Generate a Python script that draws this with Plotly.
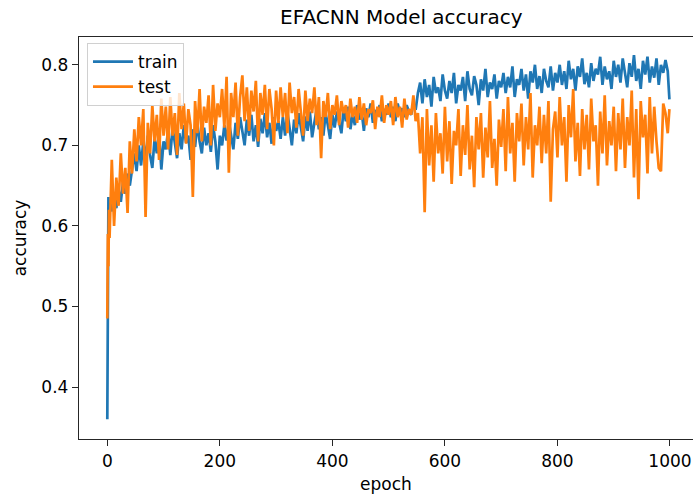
import plotly.graph_objects as go

# epochs (every epoch at the start, then every 4 epochs)
epochs = [0, 1, 2, 3] + list(range(4, 1000, 4)) + [999]

train_acc = [
    # 0-3
    0.360, 0.580, 0.636, 0.600,
    # 4-100
    0.628, 0.618, 0.640, 0.622, 0.645, 0.630, 0.655, 0.640, 0.665, 0.650,
    0.672, 0.690, 0.668, 0.700, 0.675, 0.705, 0.682, 0.712, 0.688, 0.672,
    0.708, 0.690, 0.718, 0.670, 0.705,
    # 104-200
    0.695, 0.718, 0.688, 0.722, 0.700, 0.684, 0.715, 0.695, 0.725, 0.703,
    0.712, 0.682, 0.720, 0.698, 0.728, 0.705, 0.690, 0.722, 0.700, 0.715,
    0.692, 0.725, 0.705, 0.670, 0.712,
    # 204-300
    0.700, 0.725, 0.706, 0.730, 0.712, 0.695, 0.728, 0.708, 0.735, 0.715,
    0.700, 0.732, 0.712, 0.738, 0.705, 0.725, 0.698, 0.733, 0.715, 0.740,
    0.710, 0.728, 0.702, 0.735, 0.718,
    # 304-400
    0.730, 0.708, 0.735, 0.712, 0.742, 0.718, 0.700, 0.732, 0.715, 0.740,
    0.722, 0.705, 0.736, 0.718, 0.742, 0.710, 0.728, 0.745, 0.720, 0.735,
    0.712, 0.740, 0.725, 0.708, 0.738,
    # 404-500
    0.722, 0.742, 0.728, 0.715, 0.745, 0.730, 0.748, 0.720, 0.738, 0.725,
    0.750, 0.732, 0.742, 0.718, 0.746, 0.735, 0.752, 0.728, 0.744, 0.736,
    0.750, 0.730, 0.745, 0.738, 0.752,
    # 504-600
    0.735, 0.748, 0.730, 0.752, 0.740, 0.746, 0.735, 0.750, 0.742, 0.738,
    0.752, 0.744, 0.765, 0.778, 0.752, 0.782, 0.760, 0.775, 0.748, 0.785,
    0.765, 0.772, 0.755, 0.788, 0.768,
    # 604-700
    0.758, 0.780, 0.765, 0.790, 0.752, 0.775, 0.768, 0.785, 0.755, 0.792,
    0.770, 0.762, 0.786, 0.775, 0.750, 0.782, 0.768, 0.795, 0.760, 0.778,
    0.770, 0.788, 0.758, 0.780, 0.772,
    # 704-800
    0.790, 0.765, 0.785, 0.772, 0.798, 0.760, 0.782, 0.775, 0.795, 0.768,
    0.788, 0.758, 0.792, 0.778, 0.800, 0.770, 0.786, 0.765, 0.795, 0.780,
    0.772, 0.798, 0.768, 0.790, 0.778,
    # 804-900
    0.800, 0.775, 0.792, 0.770, 0.805, 0.782, 0.795, 0.768, 0.798, 0.785,
    0.808, 0.776, 0.790, 0.772, 0.802, 0.780, 0.795, 0.788, 0.810, 0.775,
    0.798, 0.782, 0.792, 0.770, 0.805,
    # 904-996
    0.785, 0.800, 0.778, 0.808, 0.790, 0.772, 0.802, 0.785, 0.812, 0.780,
    0.795, 0.770, 0.805, 0.788, 0.810, 0.778, 0.798, 0.784, 0.808, 0.775,
    0.800, 0.790, 0.806, 0.792,
    # 999
    0.757,
]

test_acc = [
    # 0-3
    0.485, 0.590, 0.550, 0.620,
    # 4-100
    0.585, 0.682, 0.600, 0.660, 0.625, 0.690, 0.640, 0.672, 0.616, 0.705,
    0.665, 0.720, 0.680, 0.735, 0.700, 0.745, 0.611, 0.728, 0.690, 0.750,
    0.705, 0.738, 0.682, 0.758, 0.712,
    # 104-200
    0.748, 0.695, 0.760, 0.712, 0.740, 0.688, 0.765, 0.720, 0.752, 0.702,
    0.745, 0.725, 0.636, 0.755, 0.715, 0.770, 0.705, 0.748, 0.728, 0.762,
    0.700, 0.775, 0.718, 0.752, 0.735,
    # 204-300
    0.770, 0.722, 0.785, 0.666, 0.765, 0.735, 0.778, 0.712, 0.760, 0.787,
    0.730, 0.772, 0.718, 0.768, 0.742, 0.780, 0.705, 0.765, 0.738, 0.775,
    0.720, 0.770, 0.745, 0.700, 0.768,
    # 304-400
    0.728, 0.772, 0.735, 0.765, 0.715, 0.778, 0.740, 0.760, 0.722, 0.770,
    0.745, 0.712, 0.768, 0.730, 0.758, 0.740, 0.772, 0.725, 0.760, 0.684,
    0.755, 0.735, 0.765, 0.720, 0.750,
    # 404-500
    0.738, 0.762, 0.725, 0.755, 0.740, 0.750, 0.722, 0.758, 0.735, 0.748,
    0.728, 0.760, 0.732, 0.752, 0.725, 0.745, 0.740, 0.756, 0.720, 0.748,
    0.735, 0.762, 0.728, 0.750, 0.738,
    # 504-600
    0.755, 0.725, 0.760, 0.735, 0.748, 0.722, 0.758, 0.732, 0.745, 0.738,
    0.762, 0.730, 0.740, 0.690, 0.735, 0.617, 0.745, 0.675, 0.725, 0.655,
    0.740, 0.690, 0.715, 0.665, 0.748,
    # 604-700
    0.680, 0.730, 0.652, 0.718, 0.700, 0.745, 0.662, 0.725, 0.688, 0.750,
    0.670, 0.712, 0.648, 0.735, 0.695, 0.740, 0.660, 0.722, 0.685, 0.755,
    0.672, 0.708, 0.650, 0.732, 0.698,
    # 704-800
    0.745, 0.668, 0.760, 0.690, 0.728, 0.655, 0.740, 0.705, 0.752, 0.675,
    0.735, 0.695, 0.765, 0.660, 0.725, 0.700, 0.748, 0.678, 0.738, 0.690,
    0.755, 0.630, 0.720, 0.742, 0.685,
    # 804-900
    0.760, 0.700, 0.735, 0.655, 0.750, 0.710, 0.770, 0.680, 0.728, 0.662,
    0.745, 0.695, 0.738, 0.670, 0.758, 0.705, 0.725, 0.650, 0.742, 0.690,
    0.762, 0.675, 0.730, 0.700, 0.748,
    # 904-996
    0.668, 0.740, 0.695, 0.758, 0.672, 0.735, 0.700, 0.768, 0.660, 0.745,
    0.633, 0.755, 0.710, 0.738, 0.665, 0.760, 0.690, 0.748, 0.705, 0.672,
    0.668, 0.752, 0.740, 0.715,
    # 999
    0.745,
]

assert len(epochs) == len(train_acc) == len(test_acc)

x_ticks = [0, 200, 400, 600, 800, 1000]
y_ticks = [0.4, 0.5, 0.6, 0.7, 0.8]

FONT = "DejaVu Sans"
AX = "#262626"

fig = go.Figure()
fig.add_trace(go.Scatter(x=epochs, y=train_acc, mode="lines", name="train",
                         line=dict(color="#1f77b4", width=2.7)))
fig.add_trace(go.Scatter(x=epochs, y=test_acc, mode="lines", name="test",
                         line=dict(color="#ff7f0e", width=2.7)))

fig.update_layout(
    width=693, height=500,
    margin=dict(l=79, r=0, t=37, b=61),
    paper_bgcolor="white", plot_bgcolor="white",
    font=dict(family=FONT, size=17, color="black"),
    title=dict(text="EFACNN Model accuracy", font=dict(size=20, color="black"),
               x=0.525, xanchor="center", xref="paper",
               y=1 - 17 / 500, yanchor="middle", yref="container"),
    showlegend=True,
    legend=dict(x=0.013, y=0.985, xanchor="left", yanchor="top",
                bgcolor="rgba(255,255,255,0.8)", bordercolor="#d0d0d0",
                borderwidth=1, font=dict(size=17, color="black"),
                itemwidth=40, tracegroupgap=0),
    xaxis=dict(range=[-50.3, 1040.9], tickvals=x_ticks, ticktext=[str(v) for v in x_ticks],
               showgrid=False, zeroline=False, showline=True, mirror=True,
               linecolor=AX, linewidth=1.4, ticks="outside", ticklen=6,
               tickwidth=1.4, tickcolor=AX, tickfont=dict(size=17, color="black"),
               title=dict(text="epoch", font=dict(size=17, color="black"), standoff=8),
               automargin=False),
    yaxis=dict(range=[0.3355, 0.8345], tickvals=y_ticks, ticktext=[f"{v:.1f}" for v in y_ticks],
               showgrid=False, zeroline=False, showline=True, mirror=False,
               linecolor=AX, linewidth=1.4, ticks="outside", ticklen=6,
               tickwidth=1.4, tickcolor=AX, tickfont=dict(size=17, color="black"),
               title=dict(text="accuracy", font=dict(size=17, color="black"), standoff=10),
               automargin=False),
)

fig.write_html("out.html")
